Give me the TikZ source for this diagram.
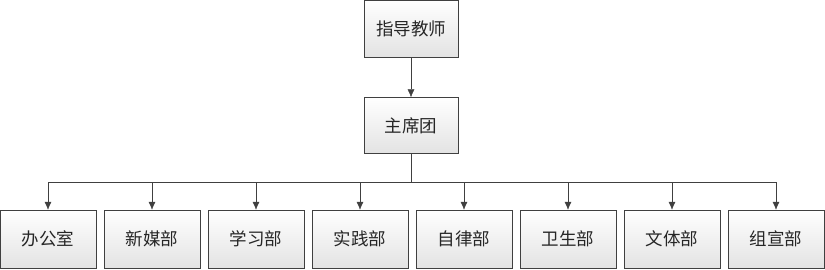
\documentclass[tikz,border=0pt]{standalone}
\usepackage{fontspec}
\newfontfamily\cjk{Noto Sans CJK SC}
\usetikzlibrary{arrows.meta,positioning,calc}
\definecolor{lineGray}{HTML}{404040}
\tikzset{
myBox/.style={
	rectangle,draw=lineGray,thin,
	top color=white,bottom color=gray!22,
	inner sep=0pt,minimum width=94pt,minimum height=57pt,
	font=\cjk\fontsize{17.5}{20}\selectfont, text=black!85
}
, myDept/.style={
	myBox,minimum width=96pt,minimum height=58pt
}
% link
, myArrow/.style={-{Latex[length=8pt,width=7pt]},color=lineGray,thin}
, myLine/.style={color=lineGray,thin}
}
\begin{document}
\begin{tikzpicture}[x=1pt,y=1pt]
	\useasboundingbox (0,0) rectangle (825,-270);
	% nodes
	\node[myBox] (Teacher) at (411,-28.5) {指导教师};
	\node[myBox,minimum height=56pt] (Presidium) at (411,-125.5) {主席团};
	\coordinate (Bus) at (411,-182);
	% departments
	\foreach \name [count=\i from 0] in {办公室,新媒部,学习部,实践部,自律部,卫生部,文体部,组宣部}
		\node[myDept] (Dept\i) at (48+104*\i,-239) {\name};
	% links
	\draw [myArrow] (Teacher) -- (Presidium);
	\draw [myLine] (Presidium) -- (Bus);
	\foreach \i in {0,...,7}
		\draw [myArrow] (Bus) -| (Dept\i.north);
\end{tikzpicture}
\end{document}
